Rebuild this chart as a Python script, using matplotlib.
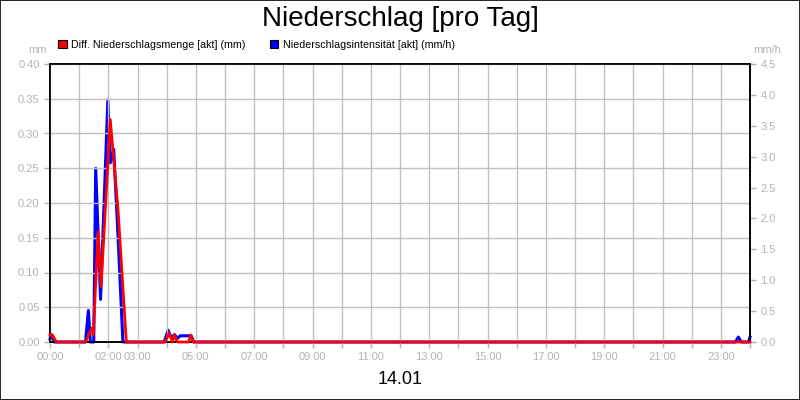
import matplotlib
matplotlib.use("Agg")
import matplotlib.pyplot as plt
from matplotlib.patches import Patch
import numpy as np

plt.rcParams['font.family'] = ['Liberation Sans', 'DejaVu Sans']

# minutes after midnight, 14.01
menge_t = [0, 5, 13, 73, 86, 89, 99, 105, 124, 140, 157,
           237, 245, 252, 256, 262, 285, 290, 295, 1440]
menge_mm = [0.01, 0.01, 0.0, 0.0, 0.02, 0.01, 0.159, 0.08, 0.32, 0.19, 0.0,
            0.0, 0.013, 0.0, 0.01, 0.0, 0.0, 0.01, 0.0, 0.0]

intens_t = [0, 3, 9, 73, 79, 83, 90, 94, 104, 119, 124, 131, 140, 150,
            235, 243, 250, 256, 262, 268, 290, 296,
            1410, 1416, 1422, 1428, 1437, 1440]
intens_mmh = [0.05, 0.12, 0.0, 0.0, 0.51, 0.0, 0.0, 2.81, 0.69, 3.92, 2.9, 3.12, 1.7, 0.0,
              0.0, 0.19, 0.06, 0.12, 0.06, 0.1, 0.1, 0.0,
              0.0, 0.08, 0.0, 0.0, 0.0, 0.08]

label_hours = [0, 2, 3, 5, 7, 9, 11, 13, 15, 17, 19, 21, 23]
left_ticks = np.arange(0, 0.401, 0.05)
right_ticks = np.arange(0, 4.51, 0.5)

grey = '#b4b4b4'

fig = plt.figure(figsize=(8, 4), dpi=100)
fig.patches.append(plt.Rectangle((0.0006, 0.0012), 0.9988, 0.9976, transform=fig.transFigure,
                                 fill=False, edgecolor='black', linewidth=1.2))
ax = fig.add_axes([0.0625, 0.145, 0.875, 0.695])
ax2 = ax.twinx()

ax2.plot(intens_t, intens_mmh, color='#0000ff', linewidth=2.2, zorder=3, clip_on=False)
ax.plot(menge_t, menge_mm, color='#ff0000', linewidth=2.0, zorder=4, clip_on=False)
ax.set_zorder(ax2.get_zorder() + 1)
ax.patch.set_visible(False)

ax.set_xlim(0, 1440)
ax.set_ylim(0, 0.40)
ax2.set_ylim(0, 4.5)

hours = np.arange(0, 25) * 60
ax.set_xticks(hours)
ax.set_xticklabels(['%02d:00' % (h // 60) if (h // 60) in label_hours else '' for h in hours])
ax.set_yticks(left_ticks)
ax.set_yticklabels(['%.2f' % v for v in left_ticks])
ax2.set_yticks(right_ticks)
ax2.set_yticklabels(['%.1f' % v for v in right_ticks])

for a in (ax, ax2):
    a.tick_params(axis='both', colors=grey, labelcolor=grey, labelsize=8, length=4, width=1)
    for s in a.spines.values():
        s.set_color('black')
        s.set_linewidth(1.2)
        s.set_zorder(2)

ax.grid(True, color='#c0c0c0', linewidth=1)
ax2.grid(False)

fig.text(0.5, 0.952, 'Niederschlag [pro Tag]', ha='center', va='center', fontsize=20)
fig.text(0.5, 0.05, '14.01', ha='center', va='center', fontsize=13)
fig.text(0.059, 0.874, 'mm', ha='right', va='center', fontsize=8, color=grey)
fig.text(0.941, 0.874, 'mm/h', ha='left', va='center', fontsize=8, color=grey)

handles = [Patch(facecolor='#ff0000', edgecolor='black', linewidth=0.8),
           Patch(facecolor='#0000ff', edgecolor='black', linewidth=0.8)]
labels = ['Diff. Niederschlagsmenge [akt] (mm)', 'Niederschlagsintensität [akt] (mm/h)']
fig.legend(handles, labels, loc='center left', bbox_to_anchor=(0.0725, 0.888), ncol=2,
           frameon=False, fontsize=7.7, handlelength=0.8, handleheight=0.8,
           handletextpad=0.4, columnspacing=2.3, borderaxespad=0, borderpad=0)

fig.savefig('out.png', dpi=100)
